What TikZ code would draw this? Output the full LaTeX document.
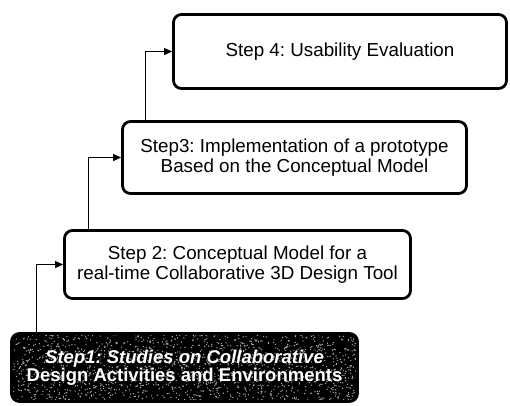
\documentclass[tikz,border=0pt]{standalone}
\usepackage{fontspec}
\setmainfont{Liberation Sans}
\usetikzlibrary{arrows.meta}
\frenchspacing
\begin{document}
\begin{tikzpicture}[x=1pt,y=-1pt,
  stepbox/.style={draw=black,line width=2.8pt,rounded corners=8pt,fill=white,
    align=center,inner sep=0pt,font=\fontsize{18.8}{20.5}\selectfont\frenchspacing},
  darkbox/.style={stepbox,fill=black,text=white,
    font=\fontsize{18.5}{18}\selectfont\bfseries\frenchspacing},
  link/.style={line width=1pt,-{Triangle[length=8pt,width=7pt]}}]
\useasboundingbox (0,0) rectangle (510,405);
\pgfmathsetseed{11}
\node[darkbox,minimum width=346pt,minimum height=68pt,
  path picture={
    \foreach \i in {1,...,1600}{
      \pgfmathsetmacro\dx{172*rand}
      \pgfmathsetmacro\dy{34*rand}
      \fill[gray!60] (path picture bounding box.center) ++(\dx pt,\dy pt) circle (0.7pt);
    }
  }] (s1) at (184.5,367.5)
  {\itshape Step1: Studies on Collaborative\\Design Activities and Environments};
\node[stepbox,minimum width=346pt,minimum height=68pt] (s2) at (237.5,264.5)
  {Step 2: Conceptual Model for a\\real-time Collaborative 3D Design Tool};
\node[stepbox,minimum width=344pt,minimum height=72pt] (s3) at (294.5,157.5)
  {Step3: Implementation of a prototype\\Based on the Conceptual Model};
\node[stepbox,minimum width=333pt,minimum height=74pt] (s4) at (340,51.5)
  {Step 4: Usability Evaluation};
\draw[link] ([xshift=26.5pt]s1.north west) |- (s2.west);
\draw[link] ([xshift=25.5pt]s2.north west) |- (s3.west);
\draw[link] ([xshift=24.5pt]s3.north west) |- (s4.west);
\end{tikzpicture}
\end{document}
